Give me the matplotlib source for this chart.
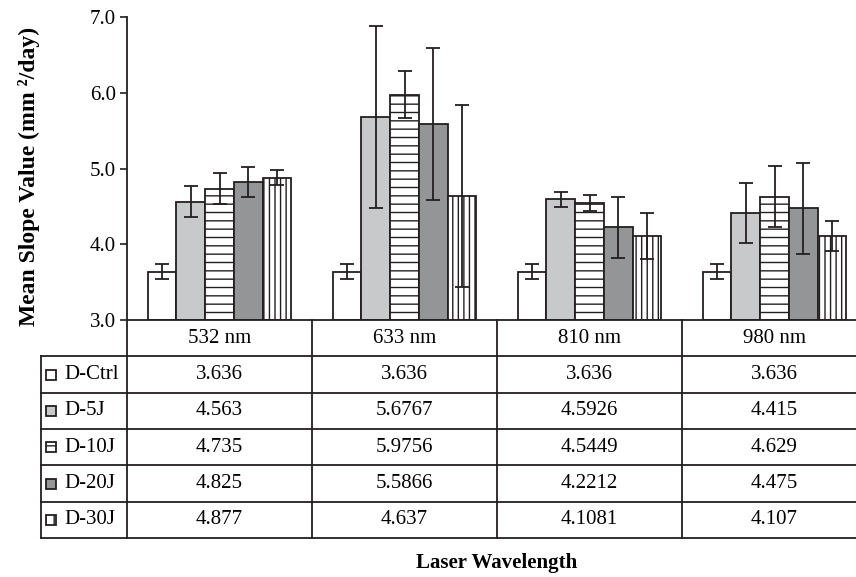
import matplotlib.pyplot as plt
from matplotlib.patches import Rectangle
import numpy as np

plt.rcParams['font.family'] = ['Liberation Serif', 'DejaVu Serif']

wavelengths = ['532 nm', '633 nm', '810 nm', '980 nm']
groups = ['D-Ctrl', 'D-5J', 'D-10J', 'D-20J', 'D-30J']

ctrl = [3.636, 3.636, 3.636, 3.636]
j5 = [4.563, 5.6767, 4.5926, 4.415]
j10 = [4.735, 5.9756, 4.5449, 4.629]
j20 = [4.825, 5.5866, 4.2212, 4.475]
j30 = [4.877, 4.637, 4.1081, 4.107]

err_ctrl = [0.1, 0.1, 0.1, 0.1]
err_5 = [0.2, 1.2, 0.1, 0.4]
err_10 = [0.2, 0.31, 0.1, 0.4]
err_20 = [0.2, 1.0, 0.4, 0.6]
err_30 = [0.1, 1.2, 0.3, 0.2]

means = [ctrl, j5, j10, j20, j30]
errs = [err_ctrl, err_5, err_10, err_20, err_30]

ink = '#231f20'
faces = ['white', '#c8c9cb', 'white', '#949596', 'white']
hatches = [None, None, '--', None, '|||']
key_hatches = [None, None, '--', None, '||']

plt.rcParams['hatch.linewidth'] = 1.0

W, H = 856, 577
fig = plt.figure(figsize=(W / 100, H / 100), dpi=100)

# pixel layout of the chart area and the table below it
x0, x1 = 127, 867
ytop, yaxis, ytab = 17, 320, 538
xtab = 41

ax = fig.add_axes([x0 / W, (H - yaxis) / H, (x1 - x0) / W, (yaxis - ytop) / H])
x = np.arange(len(wavelengths))
bw = 0.155
for i in range(len(groups)):
    ax.bar(x + (i - 2) * bw, np.array(means[i]) - 3.0, bw, bottom=3.0,
           color=faces[i], edgecolor=ink, linewidth=1.3, hatch=hatches[i],
           zorder=2)
    ax.errorbar(x + (i - 2) * bw, means[i], yerr=errs[i], fmt='none',
                ecolor=ink, elinewidth=1.3, capsize=5, capthick=1.3, zorder=3)

ax.set_xlim(-0.5, 3.5)
ax.set_ylim(3.0, 7.0)
ax.set_yticks([3, 4, 5, 6, 7])
ax.set_yticklabels(['3.0', '4.0', '5.0', '6.0', '7.0'], fontsize=15)
ax.set_xticks([])
ax.tick_params(axis='y', direction='out', length=5, width=1.2, color=ink, pad=3)
for s in ['top', 'right']:
    ax.spines[s].set_visible(False)
for s in ['left', 'bottom']:
    ax.spines[s].set_linewidth(1.3)
    ax.spines[s].set_color(ink)

fig.text(29 / W, (H - 176) / H, 'Mean Slope Value (mm ²/day)', rotation=90,
         ha='center', va='center', fontsize=17, fontweight='bold')

# data table under the bars
tab = fig.add_axes([xtab / W, (H - ytab) / H, (x1 - xtab) / W, (ytab - yaxis) / H])
unit = (x1 - x0) / 4
xl = -0.5 - (x0 - xtab) / unit
tab.set_xlim(xl, 3.5)
tab.set_ylim(6, 0)
tab.axis('off')

for r in range(1, 7):
    tab.plot([xl, 3.5], [r, r], color=ink, lw=1.3, clip_on=False)
tab.plot([xl, xl], [1, 6], color=ink, lw=1.3, clip_on=False)
for c in [-0.5, 0.5, 1.5, 2.5]:
    tab.plot([c, c], [0, 6], color=ink, lw=1.3, clip_on=False)

for j, w in enumerate(wavelengths):
    tab.text(j, 0.5, w, ha='center', va='center', fontsize=15)
for i, g in enumerate(groups):
    tab.text(xl + (64 - xtab) / unit, i + 1.5, g, ha='left', va='center',
             fontsize=15)
    for j in range(len(wavelengths)):
        tab.text(j, i + 1.5, f'{means[i][j]}', ha='center', va='center',
                 fontsize=15)
    # legend key
    cy = yaxis + (ytab - yaxis) / 6 * (i + 1.5)
    fig.add_artist(Rectangle((46 / W, (H - cy - 5) / H), 10 / W, 10 / H,
                             transform=fig.transFigure, facecolor=faces[i],
                             edgecolor=ink, linewidth=1.3,
                             hatch=key_hatches[i]))

fig.text((x0 + x1) / 2 / W, (H - 563) / H, 'Laser Wavelength', ha='center',
         va='center', fontsize=15, fontweight='bold')

fig.savefig('out.png', dpi=100)
